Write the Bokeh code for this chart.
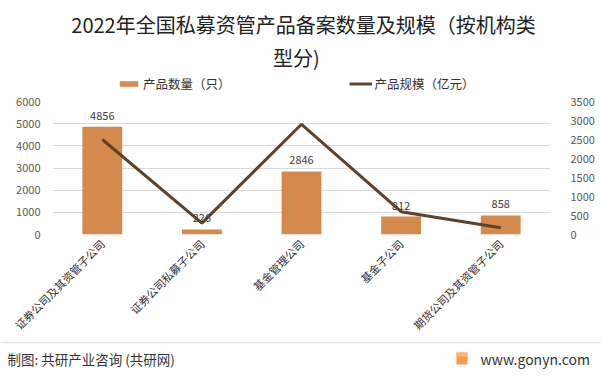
import math
from bokeh.plotting import figure
from bokeh.layouts import column, row
from bokeh.models import (ColumnDataSource, Range1d, LinearAxis, FixedTicker, Label,
                          Legend, LegendItem)
from bokeh.core.properties import value
from bokeh.embed import file_html
from bokeh.resources import INLINE

# ---- data ----
categories = ["证券公司及其资管子公司", "证券公司私募子公司", "基金管理公司", "基金子公司", "期货公司及其资管子公司"]
counts = [4856, 226, 2846, 812, 858]          # 产品数量（只）
scales = [2500, 300, 2900, 600, 180]          # 产品规模（亿元）
left_ticks = [0, 1000, 2000, 3000, 4000, 5000, 6000]
right_ticks = [0, 500, 1000, 1500, 2000, 2500, 3000, 3500]
title_lines = ["2022年全国私募资管产品备案数量及规模（按机构类", "型分)"]
series_names = ["产品数量（只）", "产品规模（亿元）"]
footer_left = "制图: 共研产业咨询 (共研网)"
footer_right = "www.gonyn.com"

FONT = "Noto Sans CJK SC"
BAR_C = "#D38A4C"
LINE_C = "#5E4229"

W = 601
HEAD_H = 93
FOOT_H = 35
MAIN_TOP = 8            # frame top at 101 in page
FRAME_H = 134           # frame bottom at 235
MAIN_BOTTOM = 106       # main figure ends at 341
FL, FR = 52, 550


def blank_fig(h):
    f = figure(width=W, height=h, x_range=Range1d(0, W), y_range=Range1d(h, 0),
               x_axis_type=None, y_axis_type=None,
               output_backend="svg", toolbar_location=None,
               min_border=0, min_border_left=0, min_border_right=0,
               min_border_top=0, min_border_bottom=0)
    f.outline_line_color = None
    f.background_fill_color = "white"
    f.border_fill_color = "white"
    f.grid.visible = False
    return f


def lab(fig, text, x, y, size, color="#222222", align="left"):
    fig.add_layout(Label(x=x, y=y, text=text, text_font=FONT, text_font_size=size,
                         text_color=color, text_align=align, text_baseline="middle"))

# ---------- header ----------
head = blank_fig(HEAD_H)
lab(head, title_lines[0], 303, 24, "20px", align="center")
lab(head, title_lines[1], 296, 57, "20px", align="center")

dummy_src = ColumnDataSource(dict(x=[-50, -40], y=[-50, -40]))
hb = head.vbar(x="x", top="y", width=1, source=dummy_src, fill_color=BAR_C, line_color=None)
hl = head.line(x="x", y="y", source=dummy_src, line_color=LINE_C, line_width=3)
legend = Legend(items=[LegendItem(label=series_names[0], renderers=[hb]),
                       LegendItem(label=series_names[1], renderers=[hl])],
                orientation="horizontal", location=(117, 0),
                padding=0, margin=0, spacing=118, glyph_width=23, glyph_height=7,
                label_height=17, label_standoff=3, border_line_color=None,
                background_fill_alpha=0,
                label_text_font=FONT, label_text_font_size="12.5px",
                label_text_color="#333333")
head.add_layout(legend, "center")

# ---------- main chart ----------
p = figure(width=W, height=MAIN_TOP + FRAME_H + MAIN_BOTTOM, x_range=categories,
           y_range=Range1d(0, 6000), output_backend="svg", toolbar_location=None,
           min_border_left=FL, min_border_right=W - FR,
           min_border_top=MAIN_TOP, min_border_bottom=MAIN_BOTTOM)
p.outline_line_color = None
p.background_fill_color = "white"
p.border_fill_color = "white"
p.xgrid.grid_line_color = None
p.ygrid.grid_line_color = "#D9D9D9"
p.ygrid.ticker = FixedTicker(ticks=left_ticks)
p.extra_y_ranges = {"right": Range1d(0, 3500)}

src = ColumnDataSource(dict(cat=categories, cnt=counts, scl=scales,
                            lbl=[str(c) for c in counts]))
p.vbar(x="cat", top="cnt", width=0.4, source=src, fill_color=BAR_C, line_color=None)
p.line(x="cat", y="scl", source=src, y_range_name="right", line_color=LINE_C, line_width=3)
p.text(x="cat", y="cnt", text="lbl", source=src, text_align="center",
       text_baseline="bottom", y_offset=-7, text_font=value(FONT),
       text_font_size="11px", text_color="#404040")

la = p.yaxis[0]
la.ticker = FixedTicker(ticks=left_ticks)
ra = LinearAxis(y_range_name="right", ticker=FixedTicker(ticks=right_ticks))
p.add_layout(ra, "right")
for ax in (la, ra):
    ax.axis_line_color = None
    ax.major_tick_line_color = None
    ax.minor_tick_line_color = None
    ax.major_label_text_font = FONT
    ax.major_label_text_font_size = "11px"
    ax.major_label_text_color = "#595959"
la.major_label_standoff = 6
ra.major_label_standoff = 14

xa = p.xaxis[0]
xa.axis_line_color = None
xa.major_tick_line_color = None
xa.minor_tick_line_color = None
xa.major_label_orientation = math.pi / 4
xa.major_label_text_font = FONT
xa.major_label_text_font_size = "11px"
xa.major_label_text_color = "#333333"
xa.major_label_standoff = 1

# ---------- footer ----------
foot = blank_fig(FOOT_H)
foot.segment(x0=[0], y0=[1], x1=[W], y1=[1], line_color="#E0E0E0", line_width=1)
lab(foot, footer_left, 7, 17, "13.5px", color="#333333")
foot.quad(left=[456], right=[467], top=[11], bottom=[23], fill_color="#F39C4F", line_color=None)
foot.quad(left=[456], right=[467], top=[11], bottom=[15], fill_color="#F7B774", line_color=None)
lab(foot, footer_right, 480, 17, "14px", color="#333333")

layout = column(row(head), p, row(foot), spacing=0)
open("out.html", "w").write(file_html(layout, INLINE))
